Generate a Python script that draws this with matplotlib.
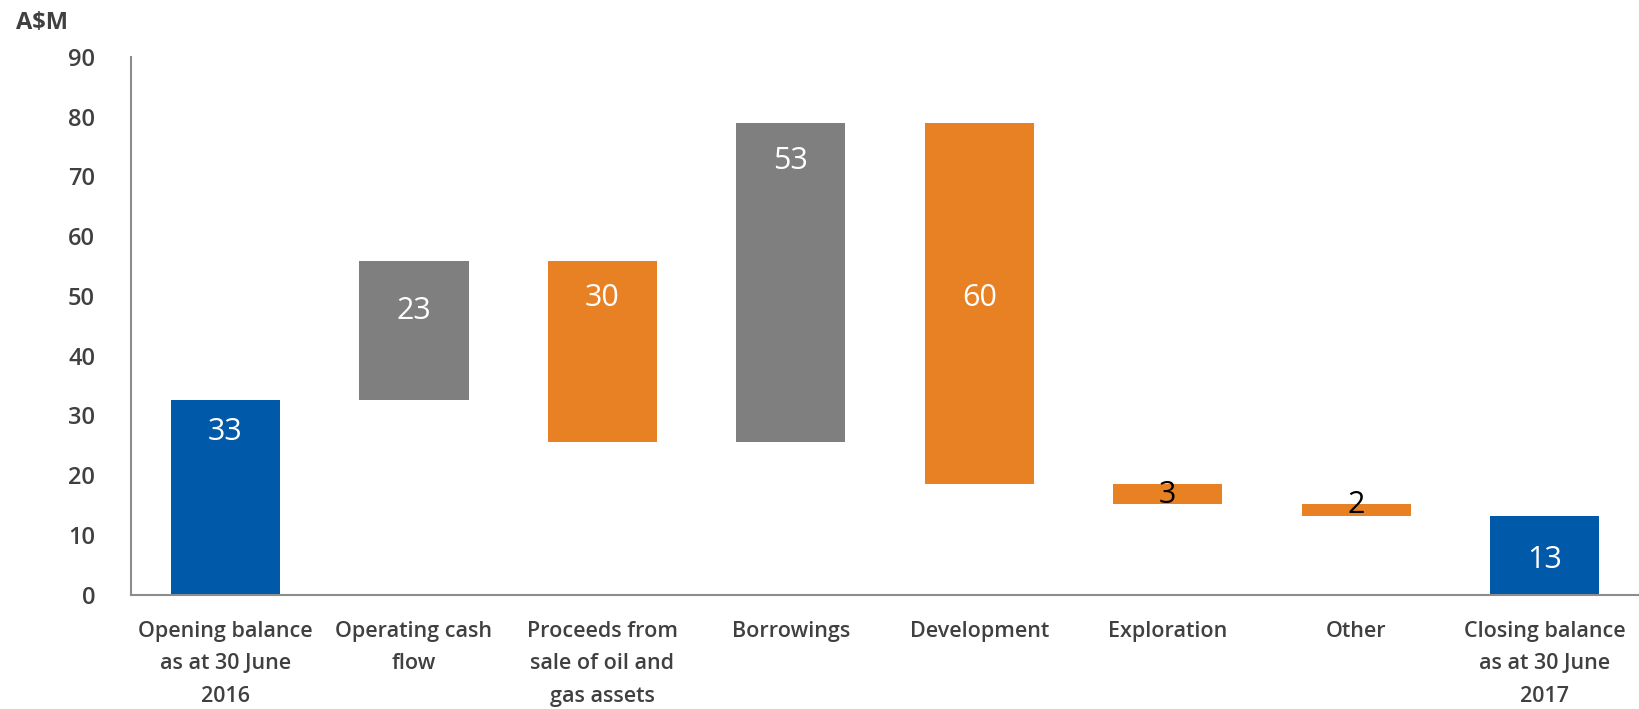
import numpy as np
import matplotlib.pyplot as plt

# === Data ===
categories = ["Opening balance\nas at 30 June\n2016", "Operating cash\nflow",
              "Proceeds from\nsale of oil and\ngas assets", "Borrowings",
              "Development", "Exploration", "Other",
              "Closing balance\nas at 30 June\n2017"]
bottoms = [0.0, 32.6, 25.6, 25.6, 18.5, 15.2, 13.2, 0.0]
heights = [32.6, 23.3, 30.3, 53.3, 60.4, 3.3, 2.0, 13.2]
labels = ["33", "23", "30", "53", "60", "3", "2", "13"]
kinds = ["total", "up", "down", "up", "down", "down", "down", "total"]

# label placement (data units) and text colour
label_y = [27.2, 47.4, 49.6, 72.5, 49.6, 16.7, 15.1, 5.8]
label_col = ["white", "white", "white", "white", "white", "black", "black", "white"]

colors = {"total": "#0059A9", "up": "#7F7F7F", "down": "#E88024"}

plt.rcParams['font.family'] = ['Open Sans', 'DejaVu Sans']

fig = plt.figure(figsize=(16.39, 7.09), dpi=100)
ax = fig.add_axes([0.080, 0.161, 0.920, 0.759])

x = np.arange(len(categories))
ax.bar(x, heights, bottom=bottoms, width=0.58,
       color=[colors[k] for k in kinds], edgecolor="none")

for xi, yi, t, c in zip(x, label_y, labels, label_col):
    ax.text(xi, yi, t, ha="center", va="center", fontsize=22,
            fontweight="medium", color=c)

ax.set_xlim(-0.5, len(categories) - 0.5)
ax.set_ylim(0, 90)
ax.set_yticks(np.arange(0, 91, 10))
ax.set_xticks(x)
ax.set_xticklabels(categories, fontsize=15.5, fontweight="semibold",
                   color="#404040", linespacing=1.7)
for lab in ax.get_yticklabels():
    lab.set_fontsize(17)
    lab.set_fontweight("semibold")
    lab.set_color("#404040")
ax.tick_params(axis="y", length=0, pad=26)
ax.tick_params(axis="x", length=0, pad=19)

for s in ["top", "right"]:
    ax.spines[s].set_visible(False)
for s in ["left", "bottom"]:
    ax.spines[s].set_color("#8C8C8C")
    ax.spines[s].set_linewidth(1.5)

fig.text(0.010, 0.968, "A$M", fontsize=17, fontweight="bold",
         color="#404040", va="center", ha="left")

fig.savefig("out.png", dpi=100)
